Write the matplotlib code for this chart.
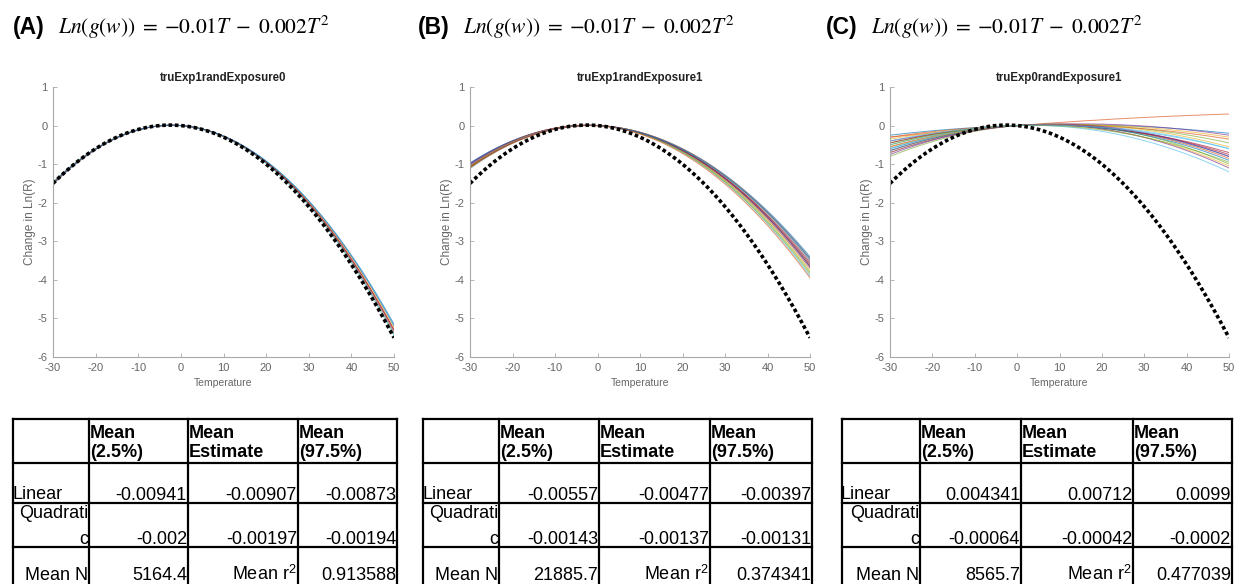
import numpy as np
import matplotlib
matplotlib.use("Agg")
import matplotlib.pyplot as plt

plt.rcParams['font.family'] = ['Liberation Sans', 'DejaVu Sans']
plt.rcParams['mathtext.fontset'] = 'stix'
plt.rcParams['axes.unicode_minus'] = False

# ---------------- data ----------------
panel_letters = ["(A)", "(B)", "(C)"]
formula = r"$Ln\left(g(w)\right)\;=\;{-}0.01T\;-\;0.002T^{2}$"
plot_titles = ["truExp1randExposure0", "truExp1randExposure1", "truExp0randExposure1"]

true_linear = -0.01
true_quad = -0.002

# per-simulation fitted coefficients
linA = [-0.00775, -0.00808, -0.00854, -0.00867, -0.00946, -0.00900, -0.00850, -0.00800]
quadA = [-0.001925, -0.001958, -0.001929, -0.001967, -0.001971, -0.002000, -0.001950, -0.001900]

linB = [-0.00467, -0.00438, -0.00408, -0.00650, -0.00600, -0.00592, -0.00620, -0.00530,
        -0.00420, -0.00520, -0.00617, -0.00658, -0.00480, -0.00467, -0.00567, -0.00775]
quadB = [-0.001267, -0.001313, -0.001358, -0.001350, -0.001400, -0.001442, -0.001296, -0.001354,
         -0.001296, -0.001396, -0.001317, -0.001408, -0.001304, -0.001367, -0.001267, -0.001425]

linC = [0.00370, 0.00850, 0.00504, 0.00646, 0.00600, 0.00592, 0.00583, 0.00650, 0.00717, 0.00670,
        0.00738, 0.00917, 0.00350, 0.00413, 0.00680, 0.00363, 0.00733, 0.00858, 0.00330, 0.00383]
quadC = [-0.000154, -0.000050, -0.000221, -0.000229, -0.000300, -0.000358, -0.000417, -0.000450,
         -0.000483, -0.000554, -0.000588, -0.000583, -0.000550, -0.000363, -0.000496, -0.000213,
         -0.000367, -0.000492, -0.000446, -0.000317]

lin_sets = [linA, linB, linC]
quad_sets = [quadA, quadB, quadC]

x_ticks = [-30, -20, -10, 0, 10, 20, 30, 40, 50]
y_ticks = [1, 0, -1, -2, -3, -4, -5, -6]

col_headers = ["Mean\n(2.5%)", "Mean\nEstimate", "Mean\n(97.5%)"]
linear_vals = [["-0.00941", "-0.00907", "-0.00873"],
               ["-0.00557", "-0.00477", "-0.00397"],
               ["0.004341", "0.00712", "0.0099"]]
quad_vals = [["-0.002", "-0.00197", "-0.00194"],
             ["-0.00143", "-0.00137", "-0.00131"],
             ["-0.00064", "-0.00042", "-0.0002"]]
mean_n = ["5164.4", "21885.7", "8565.7"]
mean_r2 = ["0.913588", "0.374341", "0.477039"]

matlab_colors = ["#0072BD", "#D95319", "#EDB120", "#7E2F8E", "#77AC30", "#4DBEEE", "#A2142F"]

# ---------------- layout (pixels) ----------------
W, H = 1241, 584
fig = plt.figure(figsize=(W / 100, H / 100), dpi=100)

ax_lr = [(53, 394), (470, 810), (890, 1229)]
ax_top, ax_bot = 87, 357
header_x = [13, 418, 826]
table_cols = [[13, 89, 188, 298, 397],
              [423, 499, 599, 710, 812],
              [842, 920, 1021, 1133, 1232]]
table_rows = [419, 463, 503, 547, 590]

bg = fig.add_axes([0, 0, 1, 1])
bg.set_xlim(0, W)
bg.set_ylim(H, 0)
bg.axis('off')

T = np.linspace(-30, 50, 400)

for i in range(3):
    l, r = ax_lr[i]
    ax = fig.add_axes([l / W, 1 - ax_bot / H, (r - l) / W, (ax_bot - ax_top) / H])
    for k, (b1, b2) in enumerate(zip(lin_sets[i], quad_sets[i])):
        ax.plot(T, b1 * T + b2 * T ** 2, color=matlab_colors[k % 7], lw=0.7, alpha=0.65)
    ax.plot(T, true_linear * T + true_quad * T ** 2, color='black', lw=2.6,
            linestyle=(0, (1.0, 0.75)), dash_capstyle='butt')
    ax.set_xlim(-30, 50)
    ax.set_ylim(-6, 1)
    ax.set_xticks(x_ticks)
    ax.set_yticks(y_ticks)
    for s in ['top', 'right']:
        ax.spines[s].set_visible(False)
    for s in ['left', 'bottom']:
        ax.spines[s].set_color("#a8a8a8")
        ax.spines[s].set_linewidth(0.8)
    ax.tick_params(direction='in', length=3, width=0.6, colors="#a8a8a8",
                   labelcolor="#666666", labelsize=8, pad=4)
    ax.set_xlabel("Temperature", fontsize=7.5, color="#666666", labelpad=4)
    ax.set_ylabel("Change in Ln(R)", fontsize=8.5, color="#666666", labelpad=1)
    ax.set_title(plot_titles[i], fontsize=8.3, fontweight='bold', color="#222222", pad=4)

    # header
    hx = header_x[i]
    bg.text(hx, 34, panel_letters[i], fontsize=16.5, fontweight='bold', ha='left', va='baseline')
    bg.text(hx + 45, 34, formula, fontsize=15.5, ha='left', va='baseline')

    # table
    cols = table_cols[i]
    rows = table_rows
    lw = 1.6
    for y in rows[:-1]:
        bg.plot([cols[0], cols[-1]], [y, y], color='black', lw=lw, solid_capstyle='projecting')
    for x in cols:
        bg.plot([x, x], [rows[0], rows[-1]], color='black', lw=lw, solid_capstyle='projecting')
    fs = 13
    for j in range(3):
        top_line, bottom_line = col_headers[j].split("\n")
        bg.text(cols[j + 1] + 1, 438, top_line, fontsize=fs,
                fontweight='bold', ha='left', va='baseline')
        bg.text(cols[j + 1] + 1, 457, bottom_line, fontsize=fs,
                fontweight='bold', ha='left', va='baseline')
        bg.text(cols[j + 2] - 1, 500, linear_vals[i][j], fontsize=fs, ha='right', va='baseline')
        bg.text(cols[j + 2] - 1, 544, quad_vals[i][j], fontsize=fs, ha='right', va='baseline')
    bg.text(cols[0] - 1, 499, "Linear", fontsize=fs, ha='left', va='baseline')
    bg.text(cols[1] - 1, 518, "Quadrati", fontsize=fs, ha='right', va='baseline')
    bg.text(cols[1] - 1, 544, "c", fontsize=fs, ha='right', va='baseline')
    bg.text(cols[1] - 1, 580, "Mean N", fontsize=fs, ha='right', va='baseline')
    bg.text(cols[2] - 1, 580, mean_n[i], fontsize=fs, ha='right', va='baseline')
    bg.text(cols[3] - 1, 580, r"Mean r$^{\mathregular{2}}$", fontsize=fs, ha='right', va='baseline')
    bg.text(cols[4] - 1, 580, mean_r2[i], fontsize=fs, ha='right', va='baseline')

fig.savefig("out.png", dpi=100)
